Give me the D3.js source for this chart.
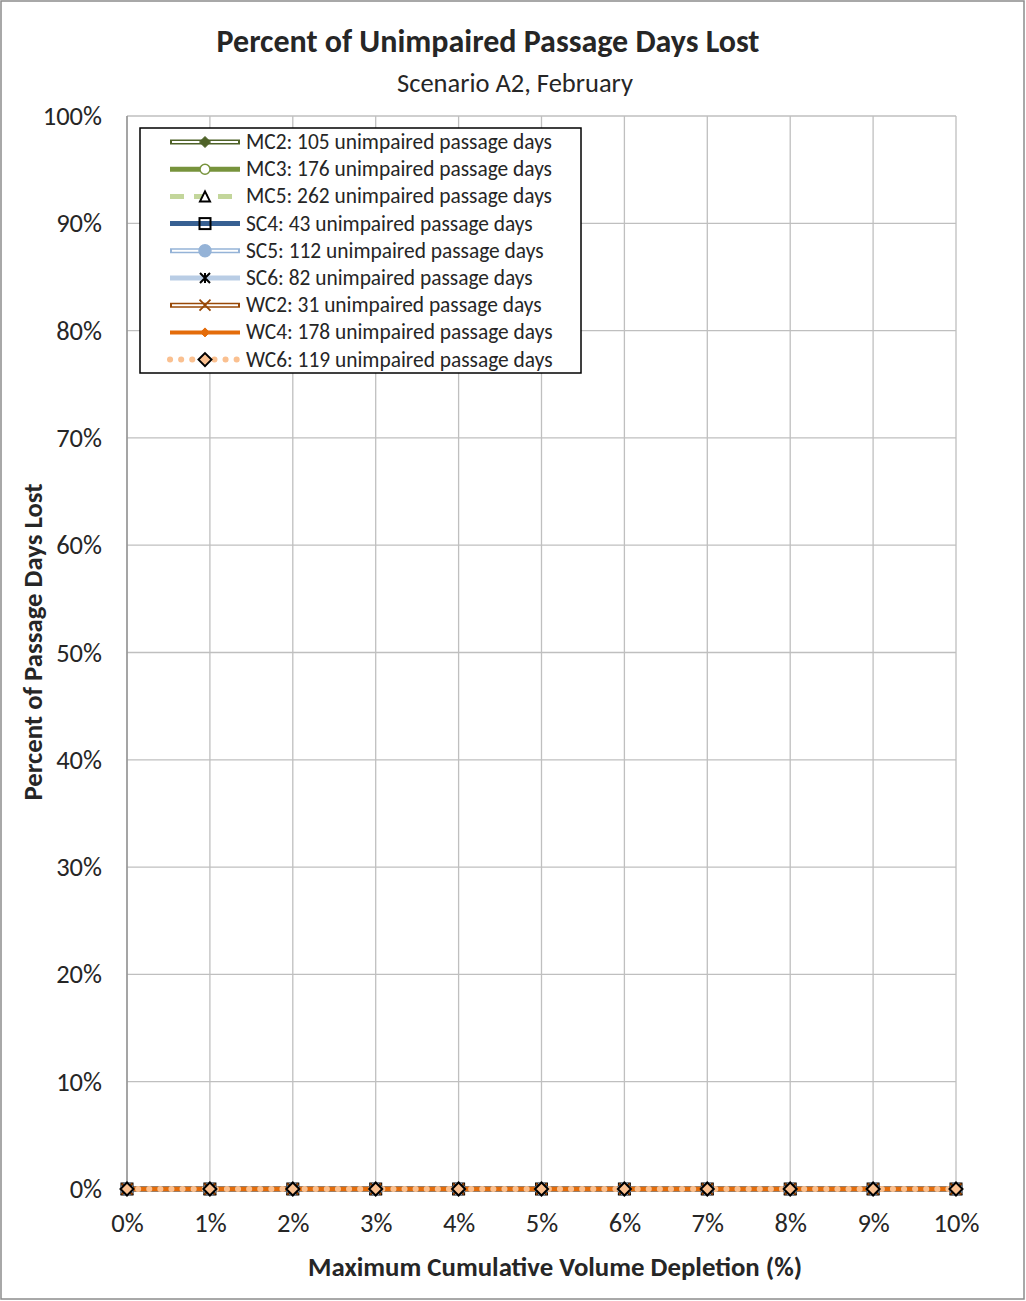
<!DOCTYPE html>
<html><head><meta charset="utf-8">
<script src="https://cdn.jsdelivr.net/npm/d3@7"></script>
<style>body{margin:0;background:#fff}svg text{font-family:Carlito,Lato,"Open Sans",sans-serif;fill:#262626}</style>
</head><body><svg id="c" width="1026" height="1301"></svg>
<script>
const xValues = [0,1,2,3,4,5,6,7,8,9,10];
const seriesNames = ["MC2: 105 unimpaired passage days","MC3: 176 unimpaired passage days","MC5: 262 unimpaired passage days","SC4: 43 unimpaired passage days","SC5: 112 unimpaired passage days","SC6: 82 unimpaired passage days","WC2: 31 unimpaired passage days","WC4: 178 unimpaired passage days","WC6: 119 unimpaired passage days"];
const mc2 = [0,0,0,0,0,0,0,0,0,0,0];
const mc3 = [0,0,0,0,0,0,0,0,0,0,0];
const mc5 = [0,0,0,0,0,0,0,0,0,0,0];
const sc4 = [0,0,0,0,0,0,0,0,0,0,0];
const sc5 = [0,0,0,0,0,0,0,0,0,0,0];
const sc6 = [0,0,0,0,0,0,0,0,0,0,0];
const wc2 = [0,0,0,0,0,0,0,0,0,0,0];
const wc4 = [0,0,0,0,0,0,0,0,0,0,0];
const wc6 = [0,0,0,0,0,0,0,0,0,0,0];
const yTicks = [0,10,20,30,40,50,60,70,80,90,100];

const styles = [
 {c:"#4f6228", w:5, inner:2, dash:null, m:"diamond", mf:"#4f6228", ms:"#4f6228", sz:9},
 {c:"#77933c", w:5, inner:0, dash:null, m:"circle", mf:"#fff", ms:"#77933c", sz:10},
 {c:"#c3d69b", w:5, inner:0, dash:"14,10", m:"triangle", mf:"#fff", ms:"#000", sz:10},
 {c:"#376092", w:5, inner:0, dash:null, m:"square", mf:"none", ms:"#000", sz:11},
 {c:"#95b3d7", w:5, inner:2, dash:null, m:"circle", mf:"#95b3d7", ms:"#95b3d7", sz:12},
 {c:"#b9cde5", w:5, inner:0, dash:null, m:"star", mf:"none", ms:"#000", sz:10},
 {c:"#984807", w:5, inner:2, dash:null, m:"x", mf:"none", ms:"#984807", sz:11},
 {c:"#e46c0a", w:4, inner:0, dash:null, m:"smalldiamond", mf:"#e46c0a", ms:"#e46c0a", sz:7},
 {c:"#fac090", w:6, inner:0, dash:"0.1,11", cap:"round", m:"diamond", mf:"#fac090", ms:"#000", sz:11}
];
const data = [mc2,mc3,mc5,sc4,sc5,sc6,wc2,wc4,wc6];

const svg = d3.select("#c");
svg.append("rect").attr("x",1).attr("y",1).attr("width",1023).attr("height",1298).attr("fill","#fff").attr("stroke","#8c8c8c").attr("stroke-width",1.5);

const L=127,R=956,T=116,B=1189;
const x = d3.scaleLinear().domain([0,10]).range([L,R]);
const y = d3.scaleLinear().domain([0,100]).range([B,T]);

// grid
const g = svg.append("g");
g.selectAll(".hg").data(yTicks).enter().append("line").attr("x1",L).attr("x2",R).attr("y1",d=>y(d)).attr("y2",d=>y(d)).attr("stroke","#bfbfbf").attr("stroke-width",1.3);
g.selectAll(".vg").data(xValues).enter().append("line").attr("y1",T).attr("y2",B).attr("x1",d=>x(d)).attr("x2",d=>x(d)).attr("stroke","#bfbfbf").attr("stroke-width",1.3);
g.append("line").attr("x1",L).attr("x2",L).attr("y1",T).attr("y2",B).attr("stroke","#8c8c8c").attr("stroke-width",1.3);

// axes
const yAxis = d3.axisLeft(y).tickValues(yTicks).tickFormat(d=>d+"%").tickSize(0).tickPadding(25);
const ya = svg.append("g").attr("transform",`translate(${L},0)`).call(yAxis);
ya.select(".domain").remove();
ya.selectAll("text").attr("font-size",26.5).attr("dy",null).attr("y",8.5).style("fill","#262626");
const xAxis = d3.axisBottom(x).tickValues(xValues).tickFormat(d=>d+"%").tickSize(0).tickPadding(24);
const xa = svg.append("g").attr("transform",`translate(0,${B})`).call(xAxis);
xa.select(".domain").remove();
xa.selectAll("text").attr("font-size",26.5).attr("dy",null).attr("y",43).style("fill","#262626");

// lines
const line = d3.line().x((d,i)=>x(xValues[i])).y(d=>y(d));
data.forEach((arr,i)=>{
  const s=styles[i];
  svg.append("path").datum(arr).attr("d",line).attr("fill","none").attr("stroke",s.c).attr("stroke-width",s.w)
    .attr("stroke-dasharray",s.dash).attr("stroke-linecap",s.cap||"butt");
  if(s.inner) svg.append("path").datum(arr).attr("d",line).attr("fill","none").attr("stroke","#fff").attr("stroke-width",s.inner);
});

function marker(sel, s, cx, cy){
  const h=s.sz/2;
  if(s.m==="diamond"||s.m==="smalldiamond"){
    sel.append("path").attr("d",`M${cx},${cy-h-1}L${cx+h+1},${cy}L${cx},${cy+h+1}L${cx-h-1},${cy}Z`).attr("fill",s.mf).attr("stroke",s.ms).attr("stroke-width",s.ms==="#000"?2:1);
  } else if(s.m==="circle"){
    sel.append("circle").attr("cx",cx).attr("cy",cy).attr("r",h).attr("fill",s.mf).attr("stroke",s.ms).attr("stroke-width",1.5);
  } else if(s.m==="triangle"){
    sel.append("path").attr("d",`M${cx},${cy-h}L${cx+h},${cy+h}L${cx-h},${cy+h}Z`).attr("fill",s.mf).attr("stroke",s.ms).attr("stroke-width",2);
  } else if(s.m==="square"){
    sel.append("rect").attr("x",cx-h).attr("y",cy-h).attr("width",s.sz).attr("height",s.sz).attr("fill",s.mf).attr("stroke",s.ms).attr("stroke-width",2);
  } else if(s.m==="star"){
    sel.append("path").attr("d",`M${cx-h},${cy-h}L${cx+h},${cy+h}M${cx+h},${cy-h}L${cx-h},${cy+h}M${cx},${cy-h}L${cx},${cy+h}`).attr("stroke",s.ms).attr("stroke-width",2);
  } else if(s.m==="x"){
    sel.append("path").attr("d",`M${cx-h},${cy-h}L${cx+h},${cy+h}M${cx+h},${cy-h}L${cx-h},${cy+h}`).attr("stroke",s.ms).attr("stroke-width",1.8);
  }
}
// markers
data.forEach((arr,i)=>{
  const gm=svg.append("g");
  arr.forEach((v,j)=>marker(gm,styles[i],x(xValues[j]),y(v)));
});

// legend
const lg = svg.append("g");
lg.append("rect").attr("x",140).attr("y",128).attr("width",441).attr("height",245).attr("fill","#fff").attr("stroke","#000").attr("stroke-width",1.5);
seriesNames.forEach((n,i)=>{
  const s=styles[i]; const yy=142+i*27.2;
  lg.append("line").attr("x1",170).attr("x2",240).attr("y1",yy).attr("y2",yy).attr("stroke",s.c).attr("stroke-width",s.w).attr("stroke-dasharray",s.dash).attr("stroke-linecap",s.cap||"butt");
  if(s.inner) lg.append("line").attr("x1",172).attr("x2",238).attr("y1",yy).attr("y2",yy).attr("stroke","#fff").attr("stroke-width",s.inner);
  marker(lg,s,205,yy);
  lg.append("text").attr("x",246).attr("y",yy+7).attr("font-size",21.4).text(n);
});

// titles
svg.append("text").attr("x",488).attr("y",51.5).attr("text-anchor","middle").attr("font-size",32).attr("font-weight","bold").text("Percent of Unimpaired Passage Days Lost");
svg.append("text").attr("x",515).attr("y",92).attr("text-anchor","middle").attr("font-size",26.5).text("Scenario A2, February");
svg.append("text").attr("x",555).attr("y",1275.5).attr("text-anchor","middle").attr("font-size",26.8).attr("font-weight","bold").text("Maximum Cumulative Volume Depletion (%)");
svg.append("text").attr("transform","translate(42,642) rotate(-90)").attr("text-anchor","middle").attr("font-size",26.8).attr("font-weight","bold").text("Percent of Passage Days Lost");
</script></body></html>
